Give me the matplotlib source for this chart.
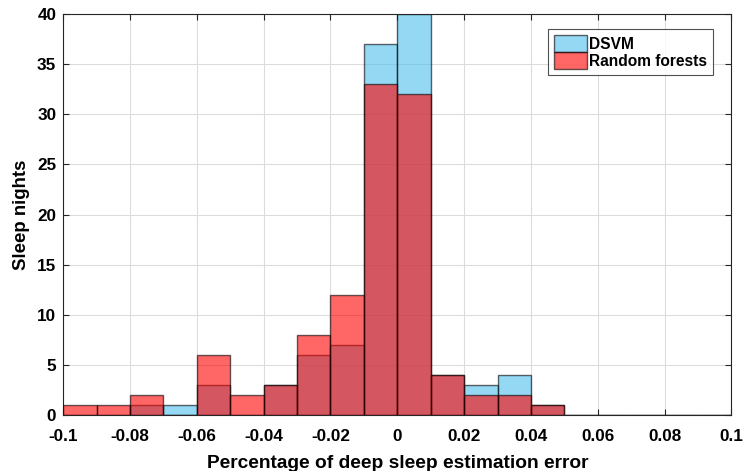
import numpy as np
import matplotlib
matplotlib.use("Agg")
import matplotlib.pyplot as plt

# histogram bin edges and counts
bin_edges = np.round(np.arange(-0.1, 0.1001, 0.01), 2)
dsvm_counts = [0, 0, 1, 1, 3, 0, 3, 6, 7, 37, 40, 4, 3, 4, 1, 0, 0, 0, 0, 0]
rf_counts = [1, 1, 2, 0, 6, 2, 3, 8, 12, 33, 32, 4, 2, 2, 1, 0, 0, 0, 0, 0]
x_ticks = [-0.1, -0.08, -0.06, -0.04, -0.02, 0, 0.02, 0.04, 0.06, 0.08, 0.1]
x_tick_labels = ["-0.1", "-0.08", "-0.06", "-0.04", "-0.02", "0", "0.02", "0.04", "0.06", "0.08", "0.1"]
y_ticks = [0, 5, 10, 15, 20, 25, 30, 35, 40]

plt.rcParams["font.family"] = ["Liberation Sans", "DejaVu Sans"]
plt.rcParams["font.weight"] = "bold"

fig = plt.figure(figsize=(7.44, 4.71), dpi=100)
ax = fig.add_axes([0.085, 0.119, 0.898, 0.851])

lefts = bin_edges[:-1]
widths = np.diff(bin_edges)

ax.bar(lefts, dsvm_counts, width=widths, align="edge",
       color=(0.3, 0.75, 0.93), alpha=0.6, edgecolor="black", linewidth=1.0,
       label="DSVM", zorder=2)
ax.bar(lefts, rf_counts, width=widths, align="edge",
       color=(1.0, 0.0, 0.0), alpha=0.6, edgecolor="black", linewidth=1.0,
       label="Random forests", zorder=3)

ax.set_xlim(-0.1, 0.1)
ax.set_ylim(0, 40)
ax.set_xticks(x_ticks)
ax.set_xticklabels(x_tick_labels)
ax.set_yticks(y_ticks)
ax.tick_params(direction="in", top=True, right=True, labelsize=12.3, length=4,
               color="#262626")
ax.tick_params(axis="x", pad=10)
ax.tick_params(axis="y", pad=5)
for lbl in ax.get_xticklabels() + ax.get_yticklabels():
    lbl.set_fontweight("bold")

ax.grid(True, color="#dcdcdc", linewidth=0.8, zorder=0)
ax.set_axisbelow(True)
for sp in ax.spines.values():
    sp.set_color("#262626")
    sp.set_linewidth(0.8)

ax.set_xlabel("Percentage of deep sleep estimation error", fontsize=13.8, fontweight="bold", labelpad=8)
ax.set_ylabel("Sleep nights", fontsize=13.4, fontweight="bold", labelpad=5)

leg = ax.legend(loc="upper right", bbox_to_anchor=(1 - 18 / 668, 1 - 15 / 401), fontsize=11.2,
                frameon=True, fancybox=False, edgecolor="#262626",
                handlelength=2.1, handleheight=1.3, handletextpad=0.15,
                borderpad=0.4, labelspacing=0.0, borderaxespad=0.0)
leg.get_frame().set_linewidth(0.8)
for t in leg.get_texts():
    t.set_fontweight("bold")

fig.savefig("out.png", dpi=100)
